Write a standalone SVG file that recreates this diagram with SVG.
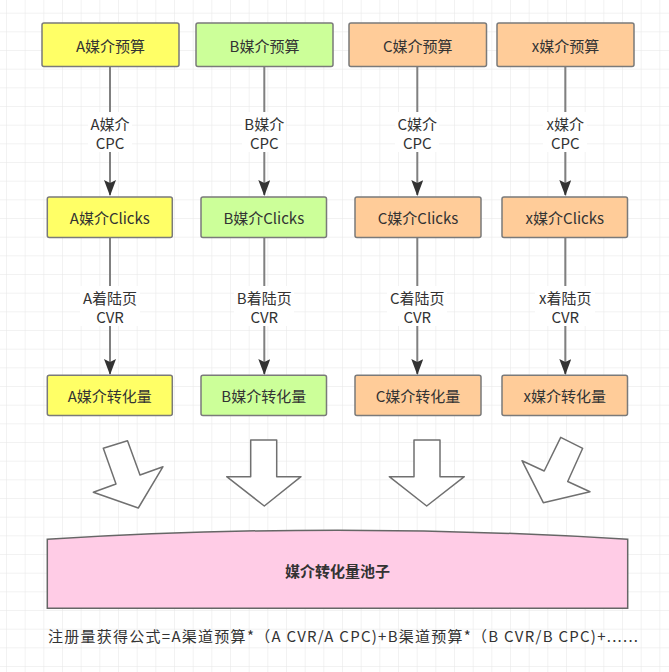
<svg xmlns="http://www.w3.org/2000/svg" width="669" height="672" viewBox="0 0 669 672">
<defs>
<pattern id="grid" patternUnits="userSpaceOnUse" x="6" y="12.67" width="18.667" height="18.667">
<path d="M0 0H18.667M0 0V18.667" fill="none" stroke="#e6e6e6" stroke-width="1"/>
</pattern>
<marker id="arr" viewBox="0 0 16 12" refX="15" refY="6" markerWidth="16" markerHeight="12" markerUnits="userSpaceOnUse" orient="auto">
<path d="M0 0L3 6L0 12L16 6Z" fill="#333"/>
</marker>
<style>
.box{stroke:#7a7a7a;stroke-width:1.5}
.ya{fill:#ffff66}.gr{fill:#ccff99}.or{fill:#ffcc99}
.t{font-family:"Noto Sans CJK SC","Liberation Sans",sans-serif;font-size:15px;fill:#333;text-anchor:middle;dominant-baseline:central}
.ln{stroke:#808080;stroke-width:2;fill:none}
.lb{fill:#fff}
.blk{fill:#fff;stroke:#707070;stroke-width:1.5;stroke-linejoin:round}
</style>
</defs>
<rect width="669" height="672" fill="#fff"/>
<rect width="669" height="672" fill="url(#grid)"/>

<g id="connectors">
<path class="ln" d="M110 66V195" marker-end="url(#arr)"/>
<path class="ln" d="M264.3 66V195" marker-end="url(#arr)"/>
<path class="ln" d="M417.3 66V195" marker-end="url(#arr)"/>
<path class="ln" d="M565.3 66V195" marker-end="url(#arr)"/>
<path class="ln" d="M110 238V374" marker-end="url(#arr)"/>
<path class="ln" d="M264.3 238V374" marker-end="url(#arr)"/>
<path class="ln" d="M417.3 238V374" marker-end="url(#arr)"/>
<path class="ln" d="M565.3 238V374" marker-end="url(#arr)"/>
<g id="labels">
<rect class="lb" x="88" y="112" width="44" height="40"/>
<rect class="lb" x="242" y="112" width="44" height="40"/>
<rect class="lb" x="395" y="112" width="44" height="40"/>
<rect class="lb" x="543" y="112" width="44" height="40"/>
<text class="t" x="110" y="123">A媒介</text><text class="t" x="110" y="142.5">CPC</text>
<text class="t" x="264.3" y="123">B媒介</text><text class="t" x="264.3" y="142.5">CPC</text>
<text class="t" x="417.3" y="123">C媒介</text><text class="t" x="417.3" y="142.5">CPC</text>
<text class="t" x="565.3" y="123">x媒介</text><text class="t" x="565.3" y="142.5">CPC</text>
<rect class="lb" x="80" y="286" width="60" height="40"/>
<rect class="lb" x="234" y="286" width="60" height="40"/>
<rect class="lb" x="387" y="286" width="60" height="40"/>
<rect class="lb" x="535" y="286" width="60" height="40"/>
<text class="t" x="110" y="297">A着陆页</text><text class="t" x="110" y="316.5">CVR</text>
<text class="t" x="264.3" y="297">B着陆页</text><text class="t" x="264.3" y="316.5">CVR</text>
<text class="t" x="417.3" y="297">C着陆页</text><text class="t" x="417.3" y="316.5">CVR</text>
<text class="t" x="565.3" y="297">x着陆页</text><text class="t" x="565.3" y="316.5">CVR</text>
</g>
</g>

<g id="nA1"><rect class="box ya" x="42" y="23" width="137" height="43.5" rx="2"/><text class="t" x="110.5" y="45">A媒介预算</text></g>
<g id="nB1"><rect class="box gr" x="196" y="23" width="137" height="43.5" rx="2"/><text class="t" x="264.5" y="45">B媒介预算</text></g>
<g id="nC1"><rect class="box or" x="349" y="23" width="137.5" height="43.5" rx="2"/><text class="t" x="417.7" y="45">C媒介预算</text></g>
<g id="nX1"><rect class="box or" x="497" y="23" width="137" height="43.5" rx="2"/><text class="t" x="565.5" y="45">x媒介预算</text></g>

<g id="nA2"><rect class="box ya" x="47.3" y="197" width="125" height="40.5" rx="2"/><text class="t" x="109.8" y="217">A媒介Clicks</text></g>
<g id="nB2"><rect class="box gr" x="201" y="197" width="125.5" height="40.5" rx="2"/><text class="t" x="263.8" y="217">B媒介Clicks</text></g>
<g id="nC2"><rect class="box or" x="355" y="197" width="126" height="40.5" rx="2"/><text class="t" x="418" y="217">C媒介Clicks</text></g>
<g id="nX2"><rect class="box or" x="502" y="197" width="125.5" height="40.5" rx="2"/><text class="t" x="564.8" y="217">x媒介Clicks</text></g>

<g id="nA3"><rect class="box ya" x="47.3" y="375.3" width="125" height="40.3" rx="2"/><text class="t" x="109.8" y="395.5">A媒介转化量</text></g>
<g id="nB3"><rect class="box gr" x="201" y="375.3" width="125.5" height="40.3" rx="2"/><text class="t" x="263.8" y="395.5">B媒介转化量</text></g>
<g id="nC3"><rect class="box or" x="355" y="375.3" width="126" height="40.3" rx="2"/><text class="t" x="418" y="395.5">C媒介转化量</text></g>
<g id="nX3"><rect class="box or" x="502" y="375.3" width="125.5" height="40.3" rx="2"/><text class="t" x="564.8" y="395.5">x媒介转化量</text></g>

<g id="bigArrows">
<polygon class="blk" points="103.3,448.3 127.5,440.7 140,475 163,466.7 138.3,508 93.3,492.3 116,484"/>
<polygon class="blk" points="250.7,440 276.7,440 276.7,476.7 301,476.7 264.3,506 226.7,476.7 250.7,476.7"/>
<polygon class="blk" points="414,440 440,440 440,476.7 464.3,476.7 426.7,506 389.3,476.7 414,476.7"/>
<polygon class="blk" points="560.7,437.3 582.7,448.3 567.7,481.5 590,491.7 543.3,502.7 522,460.7 544.2,471"/>
</g>

<g id="pool">
<path d="M47.3 539.3Q337.5 521 627.7 539.3V608.3H47.3Z" fill="#ffcce6" stroke="#666" stroke-width="1.5"/>
<text class="t" x="337.5" y="570" style="font-weight:bold">媒介转化量池子</text>
</g>

<text x="48" y="635" textLength="590" lengthAdjust="spacing" style="font-family:'Noto Sans CJK SC','Liberation Sans',sans-serif;font-size:15px;fill:#333;dominant-baseline:central">注册量获得公式=A渠道预算*（A CVR/A CPC)+B渠道预算*（B CVR/B CPC)+......</text>
</svg>
